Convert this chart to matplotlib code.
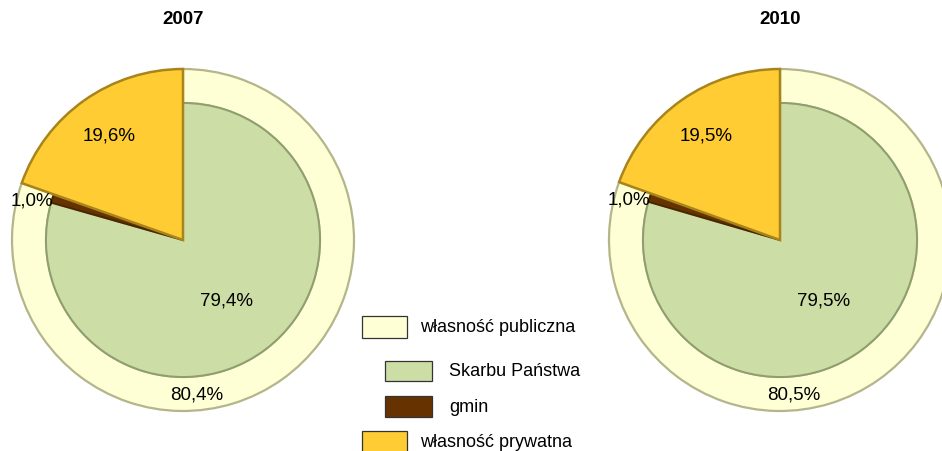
import numpy as np
import matplotlib.pyplot as plt
from matplotlib.patches import Rectangle

plt.rcParams['font.family'] = ['Liberation Sans', 'DejaVu Sans']

years = ['2007', '2010']
publiczna = [80.4, 80.5]
skarb = [79.4, 79.5]
gmin = [1.0, 1.0]
prywatna = [19.6, 19.5]

legend_labels = ['własność publiczna', 'Skarbu Państwa', 'gmin', 'własność prywatna']
c_pub = '#FFFFD6'
c_skarb = '#CCDDA6'
c_gmin = '#663300'
c_pryw = '#FFCC33'


def fmt(v):
    return f'{v:.1f}%'.replace('.', ',')


fig = plt.figure(figsize=(9.42, 4.52), dpi=100)
ax = fig.add_axes([0, 0, 1, 1])

centers = [(183, 211), (780, 211)]
R = 171
r_in = 137
fs = 13.5

for i, (cx, cy) in enumerate(centers):
    # outer ring: public ownership only
    outer, _ = ax.pie([publiczna[i], prywatna[i]], radius=R, center=(cx, cy),
                      startangle=90, counterclock=False,
                      colors=[c_pub, 'none'],
                      wedgeprops=dict(width=R - r_in, edgecolor='#B5B58C', linewidth=1.6))
    outer[1].set_visible(False)

    # inner pie: Skarbu Państwa, gmin, private (private wedge at full radius)
    inner, _ = ax.pie([skarb[i], gmin[i], prywatna[i]], radius=r_in, center=(cx, cy),
                      startangle=90, counterclock=False,
                      colors=[c_skarb, c_gmin, c_pryw],
                      wedgeprops=dict(edgecolor='#8E9E6E', linewidth=1.4))
    inner[1].set_edgecolor('#4A2500')
    inner[2].set_radius(R)
    inner[2].set_edgecolor('#A8841A')
    inner[2].set_linewidth(1.8)
    inner[2].set_zorder(3)

    def mid(w):
        return np.deg2rad((w.theta1 + w.theta2) / 2)

    a = mid(inner[2])
    ax.text(cx + 0.75 * R * np.cos(a), cy + 0.75 * R * np.sin(a), fmt(prywatna[i]),
            ha='center', va='center', fontsize=fs, zorder=5)
    a = mid(inner[0])
    ax.text(cx + 0.53 * r_in * np.cos(a), cy + 0.53 * r_in * np.sin(a) - 2, fmt(skarb[i]),
            ha='center', va='center', fontsize=fs, zorder=5)
    a = mid(inner[1])
    ax.text(cx + 159 * np.cos(a), cy + 159 * np.sin(a) - 8, fmt(gmin[i]),
            ha='center', va='center', fontsize=fs, zorder=5)
    a = np.deg2rad(-85)
    ax.text(cx + 155 * np.cos(a), cy + 155 * np.sin(a), fmt(publiczna[i]),
            ha='center', va='center', fontsize=fs, zorder=5)

    ax.text(cx, 432, years[i], ha='center', va='center', fontsize=fs,
            fontweight='bold')

# legend
legend_items = [
    (362, 113, 45, 22, c_pub, legend_labels[0], 420),
    (385, 70, 47, 20, c_skarb, legend_labels[1], 449),
    (385, 34, 47, 21, c_gmin, legend_labels[2], 449),
    (362, -2, 45, 22, c_pryw, legend_labels[3], 420),
]
for x, y, w, h, col, lab, tx in legend_items:
    ax.add_patch(Rectangle((x, y), w, h, facecolor=col, edgecolor='#333333',
                           linewidth=0.9))
    ax.text(tx, y + h / 2, lab, ha='left', va='center', fontsize=13)

ax.set_xlim(0, 942)
ax.set_ylim(0, 452)
ax.set_aspect('equal')
ax.axis('off')

fig.savefig('out.png', dpi=100)
